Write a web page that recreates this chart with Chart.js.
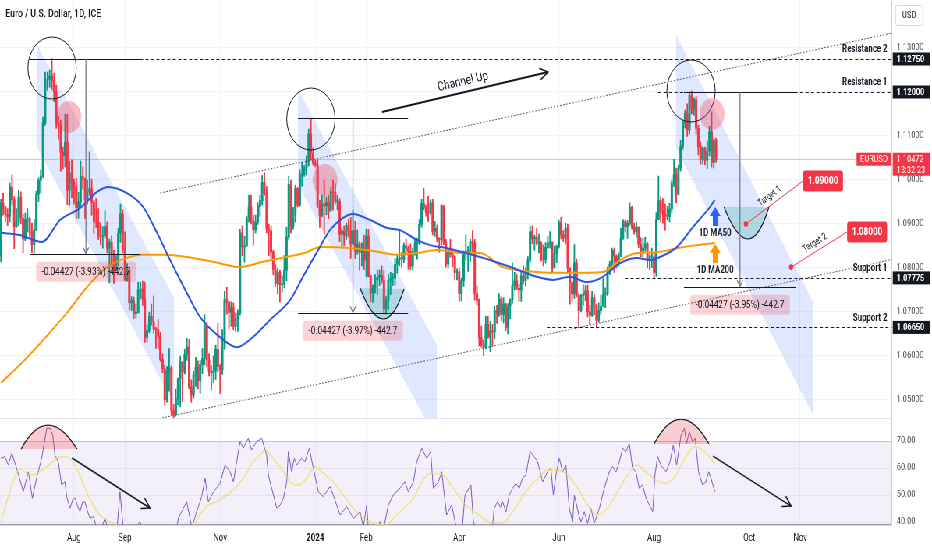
<!DOCTYPE html>
<html><head><meta charset="utf-8">
<script src="https://cdn.jsdelivr.net/npm/chart.js@4.4.1/dist/chart.umd.min.js"></script>
<style>
html,body{margin:0;padding:0;background:#ffffff;overflow:hidden;width:932px;height:550px;}
#stage{position:absolute;left:0;top:0;width:1195px;height:550px;transform-origin:0 0;}
#main{position:absolute;left:0;top:0;}
#rsi{position:absolute;left:0;top:418px;}
</style></head><body>
<div id="stage">
<canvas id="main" width="1195" height="418"></canvas>
<canvas id="rsi" width="1195" height="132"></canvas>
</div>
<script>
// ---------- DATA (daily EURUSD bars, index 0 = 15 Jun 2023) ----------
const titleText = 'Euro / U.S. Dollar, 1D, ICE';
const symbol = 'EURUSD';
const countdown = '13:32:23';
const lastPrice = 1.10472;
const firstOpen = 1.0830;
const closes = [
1.0947,1.0939,1.0922,1.0917,1.0984,1.0955,1.0894,1.0905,1.0961,1.0913,1.0866,1.0910,
1.0912,1.0881,1.0853,1.0887,1.0968,1.0999,1.1009,1.1130,1.1227,1.1229,1.1237,1.1226,1.1201,1.1129,1.1124,1.1063,1.1055,1.1086,1.0977,1.1016,1.0995,
1.0983,1.0937,1.0950,1.1008,1.1004,1.0956,1.0973,1.0980,1.0949,1.0906,1.0904,1.0873,1.0872,1.0874,1.0894,1.0845,1.0859,1.0806,1.0795,1.0817,1.0879,1.0923,1.0843,
1.0773,1.0795,1.0721,1.0726,1.0697,1.0698,1.0750,1.0752,1.0730,1.0642,1.0658,1.0690,1.0678,1.0661,1.0660,1.0645,1.0592,1.0571,1.0501,1.0565,1.0573,
1.0476,1.0467,1.0503,1.0548,1.0587,1.0563,1.0604,1.0620,1.0530,1.0511,1.0557,1.0575,1.0544,1.0581,1.0594,1.0668,1.0591,1.0565,1.0562,1.0566,1.0615,1.0576,
1.0569,1.0619,1.0728,1.0722,1.0699,1.0710,1.0667,1.0684,1.0698,1.0880,1.0848,1.0850,1.0913,1.0939,1.0908,1.0887,1.0905,1.0940,1.0953,1.0994,1.0969,1.0888,
1.0884,1.0836,1.0796,1.0765,1.0790,1.0762,1.0763,1.0795,1.0870,1.0990,1.0895,1.0922,1.0981,1.0943,1.1012,1.1012,1.1028,1.1042,1.1105,1.1061,1.1039,
1.1035,1.0942,1.0920,1.0945,1.0941,1.0950,1.0930,1.0973,1.0972,1.0951,1.0951,1.0877,1.0884,1.0873,1.0897,1.0884,1.0855,1.0885,1.0838,1.0855,1.0835,1.0845,1.0818,
1.0873,1.0782,1.0743,1.0755,1.0773,1.0779,1.0784,1.0772,1.0707,1.0727,1.0772,1.0777,1.0777,1.0808,1.0820,1.0823,1.0820,1.0851,1.0845,1.0838,1.0804,
1.0838,1.0855,1.0856,1.0899,1.0947,1.0937,1.0927,1.0926,1.0948,1.0883,1.0890,1.0867,1.0865,1.0942,1.0858,1.0809,1.0839,1.0831,1.0826,1.0790,1.0791,
1.0742,1.0771,1.0835,1.0836,1.0838,1.0860,1.0857,1.0742,1.0727,1.0642,1.0625,1.0620,1.0672,1.0643,1.0656,1.0655,1.0703,1.0697,1.0730,1.0694,1.0718,1.0665,
1.0713,1.0728,1.0760,1.0771,1.0754,1.0750,1.0782,1.0771,1.0790,1.0818,1.0883,1.0866,1.0870,1.0856,1.0856,1.0820,1.0819,1.0847,1.0857,1.0858,1.0800,1.0833,1.0849,
1.0903,1.0875,1.0868,1.0891,1.0800,1.0767,1.0741,1.0812,1.0738,1.0703,1.0737,1.0741,1.0748,1.0700,1.0693,1.0733,1.0714,1.0681,1.0703,1.0713,
1.0740,1.0741,1.0791,1.0809,1.0840,1.0827,1.0814,1.0830,1.0868,1.0906,1.0894,1.0902,1.0938,1.0894,1.0882,1.0893,1.0854,1.0838,1.0845,1.0855,1.0818,1.0825,1.0825,
1.0790,1.0910,1.0953,1.0928,1.0923,1.0920,1.0917,1.0934,1.0993,1.1012,1.0968,1.1027,1.1077,1.1130,1.1151,1.1113,1.1192,1.1161,1.1183,1.1118,1.1076,1.1047,
1.1073,1.1045,1.1066,1.1110,1.1040,1.1090,1.1047];
const highs = [
1.0956,1.0970,1.0940,1.0935,1.0993,1.1012,1.0962,1.0935,1.0976,1.0973,1.0922,1.0925,
1.0935,1.0916,1.0902,1.0910,1.0975,1.1005,1.1023,1.1143,1.1245,1.1245,1.1250,1.1276,1.1243,1.1216,1.1145,1.1136,1.1075,1.1150,1.1149,1.1043,1.1046,
1.1002,1.1005,1.0972,1.1043,1.1030,1.1000,1.1000,1.1064,1.1002,1.0954,1.0958,1.0935,1.0903,1.0894,1.0930,1.0905,1.0866,1.0873,1.0840,1.0828,1.0890,1.0945,1.0932,
1.0882,1.0810,1.0799,1.0735,1.0734,1.0718,1.0768,1.0768,1.0770,1.0768,1.0670,1.0700,1.0718,1.0737,1.0665,1.0683,1.0654,1.0605,1.0580,1.0576,1.0617,
1.0577,1.0490,1.0525,1.0550,1.0600,1.0575,1.0616,1.0640,1.0638,1.0546,1.0565,1.0597,1.0589,1.0590,1.0617,1.0694,1.0676,1.0605,1.0579,1.0600,1.0624,1.0675,
1.0581,1.0660,1.0747,1.0756,1.0725,1.0723,1.0721,1.0698,1.0705,1.0888,1.0895,1.0872,1.0918,1.0966,1.0965,1.0920,1.0920,1.0948,1.0965,1.1010,1.1017,1.0985,
1.0900,1.0895,1.0840,1.0808,1.0800,1.0795,1.0782,1.0828,1.0893,1.1009,1.1000,1.0938,1.0988,1.0983,1.1023,1.1040,1.1033,1.1055,1.1116,1.1140,1.1073,
1.1045,1.1046,1.0954,1.0966,1.0999,1.0962,1.0965,1.0983,1.0999,1.0992,1.0965,1.0957,1.0891,1.0895,1.0902,1.0910,1.0915,1.0932,1.0906,1.0886,1.0860,1.0857,1.0874,
1.0888,1.0888,1.0784,1.0762,1.0785,1.0795,1.0795,1.0805,1.0795,1.0735,1.0786,1.0790,1.0788,1.0822,1.0831,1.0888,1.0835,1.0857,1.0866,1.0850,1.0855,
1.0845,1.0865,1.0868,1.0910,1.0956,1.0981,1.0943,1.0963,1.0955,1.0956,1.0906,1.0898,1.0869,1.0944,1.0942,1.0865,1.0845,1.0865,1.0842,1.0828,1.0798,
1.0800,1.0777,1.0839,1.0876,1.0849,1.0865,1.0885,1.0865,1.0760,1.0730,1.0668,1.0636,1.0690,1.0690,1.0678,1.0672,1.0713,1.0715,1.0742,1.0735,1.0733,1.0720,
1.0719,1.0730,1.0812,1.0790,1.0785,1.0763,1.0790,1.0805,1.0800,1.0826,1.0894,1.0896,1.0875,1.0890,1.0877,1.0860,1.0852,1.0858,1.0872,1.0883,1.0860,1.0850,1.0852,
1.0909,1.0916,1.0885,1.0902,1.0900,1.0790,1.0767,1.0853,1.0820,1.0742,1.0740,1.0762,1.0760,1.0761,1.0715,1.0747,1.0740,1.0717,1.0721,1.0738,
1.0776,1.0755,1.0802,1.0816,1.0845,1.0845,1.0830,1.0835,1.0891,1.0910,1.0910,1.0908,1.0948,1.0941,1.0902,1.0905,1.0892,1.0869,1.0868,1.0870,1.0858,1.0830,1.0845,
1.0835,1.0926,1.1009,1.0961,1.0958,1.0945,1.0940,1.0947,1.1000,1.1047,1.1027,1.1034,1.1090,1.1135,1.1159,1.1173,1.1200,1.1202,1.1187,1.1190,1.1124,1.1087,
1.1076,1.1075,1.1089,1.1122,1.1155,1.1095,1.1095];
const lows = [
1.0814,1.0920,1.0905,1.0896,1.0905,1.0943,1.0844,1.0892,1.0896,1.0900,1.0835,1.0862,
1.0882,1.0872,1.0835,1.0833,1.0885,1.0951,1.0970,1.1005,1.1124,1.1204,1.1211,1.1206,1.1178,1.1117,1.1093,1.1020,1.1025,1.1030,1.0944,1.0943,1.0960,
1.0945,1.0912,1.0913,1.0940,1.0980,1.0912,1.0945,1.0965,1.0920,1.0878,1.0892,1.0865,1.0853,1.0845,1.0868,1.0835,1.0766,1.0800,1.0765,1.0795,1.0805,1.0858,1.0835,
1.0772,1.0770,1.0705,1.0703,1.0685,1.0686,1.0706,1.0730,1.0715,1.0631,1.0632,1.0653,1.0670,1.0652,1.0617,1.0616,1.0588,1.0562,1.0488,1.0495,1.0520,
1.0465,1.0448,1.0463,1.0489,1.0484,1.0496,1.0559,1.0590,1.0525,1.0495,1.0504,1.0531,1.0525,1.0515,1.0560,1.0580,1.0575,1.0555,1.0523,1.0540,1.0547,1.0564,
1.0515,1.0558,1.0615,1.0695,1.0661,1.0667,1.0660,1.0656,1.0656,1.0693,1.0828,1.0813,1.0850,1.0904,1.0900,1.0852,1.0880,1.0899,1.0917,1.0943,1.0965,1.0880,
1.0828,1.0820,1.0785,1.0758,1.0741,1.0723,1.0745,1.0755,1.0771,1.0865,1.0880,1.0888,1.0904,1.0939,1.0940,1.0986,1.1008,1.1011,1.1032,1.1046,1.1034,
1.1030,1.0937,1.0892,1.0916,1.0877,1.0921,1.0912,1.0931,1.0932,1.0945,1.0932,1.0860,1.0844,1.0850,1.0865,1.0870,1.0822,1.0851,1.0821,1.0831,1.0795,1.0805,1.0796,
1.0780,1.0779,1.0723,1.0722,1.0743,1.0740,1.0760,1.0765,1.0696,1.0695,1.0705,1.0740,1.0760,1.0761,1.0788,1.0805,1.0802,1.0812,1.0834,1.0797,1.0797,
1.0795,1.0829,1.0820,1.0853,1.0893,1.0932,1.0918,1.0906,1.0922,1.0875,1.0872,1.0859,1.0836,1.0852,1.0853,1.0802,1.0800,1.0824,1.0803,1.0774,1.0773,
1.0724,1.0725,1.0758,1.0818,1.0792,1.0815,1.0837,1.0727,1.0715,1.0623,1.0620,1.0601,1.0616,1.0640,1.0610,1.0623,1.0640,1.0674,1.0690,1.0680,1.0675,1.0657,
1.0650,1.0684,1.0720,1.0750,1.0751,1.0724,1.0724,1.0765,1.0759,1.0775,1.0812,1.0855,1.0840,1.0852,1.0834,1.0816,1.0805,1.0811,1.0844,1.0845,1.0788,1.0800,1.0812,
1.0845,1.0866,1.0860,1.0855,1.0790,1.0718,1.0725,1.0731,1.0734,1.0668,1.0700,1.0715,1.0725,1.0689,1.0671,1.0690,1.0694,1.0665,1.0677,1.0695,
1.0713,1.0710,1.0737,1.0785,1.0799,1.0790,1.0800,1.0805,1.0826,1.0865,1.0882,1.0867,1.0898,1.0888,1.0877,1.0870,1.0846,1.0826,1.0825,1.0838,1.0800,1.0796,1.0801,
1.0777,1.0781,1.0915,1.0905,1.0902,1.0886,1.0910,1.0905,1.0925,1.0985,1.0948,1.0966,1.1020,1.1070,1.1118,1.1099,1.1105,1.1150,1.1147,1.1105,1.1057,1.1036,
1.1036,1.1034,1.1026,1.1055,1.1030,1.1027,1.1040];

// moving averages (bar index, price)
const ma50Idx = [0,8.6,18.5,26.7,35.7,43.4,48.4,56.9,64.2,70.5,76.4,84,89.9,98.9,106.6,113.8,121.5,130.6,136.4,144.1,148.6,154.5,159,166.7,174.4,180.2,187.9,193.8,201.5,208.7,216.4,220.9,231.3,242.1,249.3,257,264.7,271.9,279.6,287.3,293.2,297.7,305.4,312.6,320.3,322.5];
const ma50Val = [1.0880,1.0875,1.0859,1.0909,1.0936,1.0973,1.0984,1.0970,1.0939,1.0880,1.0818,1.0743,1.0689,1.0643,1.0620,1.0643,1.0682,1.0727,1.0780,1.0848,1.0886,1.0914,1.0923,1.0909,1.0891,1.0886,1.0864,1.0852,1.0845,1.0836,1.0825,1.0818,1.0800,1.0780,1.0773,1.0780,1.0768,1.0780,1.0811,1.0823,1.0818,1.0825,1.0848,1.0893,1.0939,1.0955];
const ma200Idx = [0,8.6,19,29.8,38.9,47.9,56.9,64.2,73.2,84,95.8,108,118.4,129.2,138.2,144.1,159,171.2,178.9,187.9,196.9,208.7,216.4,226.8,242.1,257,271.9,279.6,287.3,296.3,305.4,314.4,322.5];
const ma200Val = [1.0539,1.0580,1.0636,1.0698,1.0757,1.0802,1.0823,1.0830,1.0830,1.0825,1.0814,1.0802,1.0814,1.0825,1.0836,1.0848,1.0845,1.0836,1.0830,1.0834,1.0841,1.0834,1.0834,1.0802,1.0791,1.0789,1.0791,1.0818,1.0834,1.0836,1.0845,1.0852,1.0857];

// RSI and its moving average (bar index, value)
const rsiIdx = [0,1.8,3.3,4.9,7.1,8.6,10.1,12.4,14.2,16.1,18.4,20.7,22.2,23.4,24.4,25.9,27.4,28.9,29.7,31.2,32.4,33.5,34.7,35.7,36.9,38,39.2,40.2,41.7,43.2,44.7,47,48.5,50.8,52.5,53.8,55.3,57.6,59.8,62.8,64.3,66.6,70.3,73.4,76.4,78.6,80.1,81.6,83.9,86.2,88.4,90.7,92.2,93.7,96,99,101.2,103.5,105,106.5,108,109.5,111.7,113.2,115.5,117.8,120,120.8,122.3,124.6,126.1,127.6,129.1,129.8,131.3,132.5,133.6,135.8,137.3,139.3,141.1,143.4,145.6,148.6,150.1,153.2,156.2,159.2,162.2,163.7,165.2,166,168.2,171.2,172.7,175,177.2,180.3,182.5,184,186.3,187.8,190.1,192.3,194.1,195.3,197.6,199.1,201.3,203.6,205.9,208.1,209.6,212.3,213.4,214.6,217,219,222.1,222.8,224.3,225.9,226.6,228.1,229.6,231.1,232.6,234.1,235.6,237.1,239,240.9,242.4,244.7,246.9,248.4,249.5,250.7,252.2,253.7,255.2,256.7,258.2,259,261,262,263.5,265,266.5,268,270.3,272.5,274.8,276.3,277.8,279.3,280.8,282.3,283.8,285.3,286.8,288.3,289.8,291.4,292.9,294.4,295.4,296.6,298.1,300.4,302.2,303.7,305.2,307.2,308.7,309.7,310.9,312.4,313.6,315.1,316.9,318.4,319.7,320.7,322.5];
const rsiVal = [63.6,64.2,61.1,65.4,59.9,55.6,51.2,58.6,48.8,56.2,63.6,74.7,74.7,72.2,64.8,62.3,53.7,54.9,49.4,45.1,48.2,48.8,45.7,43.8,47.5,47.3,43.8,41.4,42,38,36,41.4,37,34,38,51.2,37,35,37,40.1,37,33,30,27,26,33,41.4,43.8,47.5,38,43.8,49.4,56.2,47.5,51.2,54.3,61.1,58.6,54.9,62.3,69.8,67.3,71,66.7,69.8,71,64.8,57.4,52.5,45.1,46.3,48.8,54.9,66.1,58.6,63.6,61.1,63.6,62.3,67.3,59.9,51.2,49.4,53.1,50,42.6,45.7,41.4,43.8,38,46.3,37,34,40.1,37,46.3,50,52.5,54.9,51.2,54.9,62.3,67.3,63.6,66.1,52.5,54.9,58.6,42.6,46.3,37,35,50,53.7,40.1,37,33,36,38.9,45.1,47.5,45.1,47.5,43.8,50,52.5,54.3,52.5,56.2,57.4,66.1,64.2,62.3,54.9,58.6,59.9,50,57.4,63.6,58.6,61.1,45.1,40.1,50,42.6,40.1,43.8,39.5,45.1,39.5,45.1,52.5,58.6,60.5,58.6,62.3,67.3,66.1,69.1,59.9,58.6,52.5,53.7,48.8,46.3,43.8,57.4,64.2,61.1,58.6,62.3,68.5,61.1,72.2,74.7,69.1,73.5,69.8,71,58.6,53.7,54.9,58.6,56.2,51.2];
const rsiMaIdx = [0,2.6,5.6,8.6,11.6,14.6,17.6,20.7,24.4,28.2,31.2,34.2,38,41.7,44.7,49.3,52.3,56.8,62.8,70,78,86.9,89.9,93.7,97.4,102,105.7,109.5,114,117,119.3,123,127.6,131.3,134.3,138.1,141.9,145.6,150.1,154.7,159.2,163.7,168.2,174.2,177.2,181.8,186.3,190.1,193.8,196.8,199.8,204.3,210,216,222.1,226.6,231.1,237.1,242.4,246.9,251.5,256,260.5,265,269.5,274,278.5,283.1,286.8,291.4,295.9,300.4,304.9,309.4,313.2,316.9,322.5];
const rsiMaVal = [40.1,47.5,55,59.9,58,57.4,58.6,60.5,63,64.2,63.6,59.9,52.5,46.3,42.6,40.1,38.9,37,35,33,33,38.5,42.6,46.3,47.5,50,52.5,56.2,62.3,64.8,66.7,63.6,58.6,54.3,53.7,56.2,60.5,58,54.9,50,45.1,41.4,39.5,38.9,41.4,45.1,48.8,54.9,58,58,57.4,52.5,46.3,42.6,39.5,39.5,43.8,51.2,56.2,59.2,59.2,57.4,52.5,46.3,42.6,45.1,51.2,57.4,61.1,58.6,55.6,54.3,57.4,64.2,67.9,66.7,61.7];

// axes
const monthTickIdx = [33,56,99,142,165,207,252,295,338,361];
const monthTickLabels = ['Aug','Sep','Nov','2024','Feb','Apr','Jun','Aug','Oct','Nov'];
const priceTicks = [1.05,1.06,1.07,1.08,1.09,1.10,1.11,1.12,1.13];
const rsiTicks = [40,50,60,70];
const viewIdx = [-0.42, 402.47];
const viewPrice = [1.045909, 1.140909];
const viewRsi = [38.89, 78.52];
const rsiBandTop = 70;

// drawings (in data coordinates: bar index, price)
const levelPrices = [1.1275, 1.12, 1.07775, 1.0665];
const levelNames = ['Resistance 2','Resistance 1','Support 1','Support 2'];
const levelStartIdx = [62.8, 296.8, 281.9, 246.6];
const channelUpper = [[71.9,1.09705],[402.5,1.13341]];
const channelLower = [[72.8,1.04591],[402.5,1.08193]];
const channelArrow = [[172.1,1.11545],[247.1,1.12455]];
const channelText = [208.7,1.12227,'Channel Up'];
const bearBands = [
  [[16.3,1.13068],[78.2,1.07318],[78.2,1.04886],[16.3,1.1075]],
  [[134.2,1.12045],[196.9,1.0625],[196.9,1.0409],[134.2,1.09886]],
  [[304.9,1.13295],[366.8,1.07227],[366.8,1.04659],[304.9,1.10727]]
];
const topCircles = [[23.1,1.12545],[140.0,1.11386],[311.7,1.12023]];
const pinkDots = [[30.7,1.11432],[146.4,1.1000],[321.2,1.1150]];
const measureTop = [1.1275, 1.1141, 1.12];
const measureDelta = 0.04427;
const measureFrom = [13.1, 134.2, 308.5];
const measureTo = [62.8, 183.9, 359.1];
const measureMid = [38.4, 159, 333.8];
const measurePct = ['-3.93%','-3.97%','-3.95%'];
const measurePips = '-442.7';
const uArcs = [
  [[162.2,1.07545],[172.6,1.06841],[182.1,1.07523]],
  [[326.6,1.09386],[337.4,1.08659],[346.9,1.09386]]
];
const targetPrices = [1.09, 1.08];
const targetNames = ['Target 1','Target 2'];
const targetDots = [[336.5,1.0900],[356.9,1.0802]];
const targetBoxes = [[362.3,1.09977],[382.2,1.08818]];
const maNotes = [
  {text:'1D MA50', idx:322.6, textPrice:1.08795, tip:1.09386, base:1.08955, color:'#2962FF'},
  {text:'1D MA200', idx:322.6, textPrice:1.07932, tip:1.08545, base:1.08114, color:'#FF9800'}
];
const rsiDomes = [
  [[9.1,67.0],[21.3,75.9],[34.4,67.0]],
  [[295,68.9],[307.2,78.1],[319.8,68.9]]
];
const rsiArrows = [
  [[32.1,63.7],[67.3,45.2]],
  [[321.6,64.4],[356.9,45.9]]
];

// ---------- RENDERING ----------
const STAGE_W = 1195;
const SX = 932 / STAGE_W;
document.getElementById('stage').style.transform = 'scaleX(' + SX + ')';
const AXIS_W = 40 / SX;
const UP = '#089981', DOWN = '#F23645';
Chart.defaults.font.family = 'Roboto, "Noto Sans", sans-serif';
Chart.defaults.color = '#131722';

const opens = closes.map((c,i)=> i===0 ? firstOpen : closes[i-1]);
const barColors = closes.map((c,i)=> c >= opens[i] ? UP : DOWN);
const wickData = closes.map((c,i)=>({x:i, y:[Math.min(lows[i],opens[i],c), Math.max(highs[i],opens[i],c)]}));
const bodyData = closes.map((c,i)=>({x:i, y:[opens[i], c]}));
const pairs = (xs, ys) => xs.map((x,i)=>({x, y:ys[i]})).filter(p=>p.y!==undefined);

function seg(ctx,x1,y1,x2,y2){ctx.beginPath();ctx.moveTo(x1,y1);ctx.lineTo(x2,y2);ctx.stroke();}
function vHead(ctx,x1,y1,x2,y2,size,spread){
  const a=Math.atan2(y2-y1,x2-x1);
  ctx.beginPath();
  ctx.moveTo(x2-size*Math.cos(a-spread),y2-size*Math.sin(a-spread));
  ctx.lineTo(x2,y2);
  ctx.lineTo(x2-size*Math.cos(a+spread),y2-size*Math.sin(a+spread));
  ctx.stroke();
}
function rrect(ctx,x,y,w,h,r){ctx.beginPath(); if(ctx.roundRect){ctx.roundRect(x,y,w,h,r);} else {ctx.rect(x,y,w,h);} }
function arcPath(ctx, pts){
  const [s,b,e]=pts;
  const c=[2*b[0]-(s[0]+e[0])/2, 2*b[1]-(s[1]+e[1])/2];
  ctx.beginPath(); ctx.moveTo(s[0],s[1]); ctx.quadraticCurveTo(c[0],c[1],e[0],e[1]);
}

const xScaleBase = {
  type:'linear', min:viewIdx[0], max:viewIdx[1], offset:false,
  grid:{color:'#f0f3fa', drawTicks:false, offset:false},
  afterBuildTicks(s){ s.ticks = monthTickIdx.map(v=>({value:v})); }
};

const mainOverlay = {
  id:'mainOverlay',
  beforeDatasetsDraw(chart){
    const {ctx, chartArea:a, scales:{x,y}} = chart;
    const X=v=>x.getPixelForValue(v), Y=v=>y.getPixelForValue(v);
    ctx.save();
    ctx.beginPath(); ctx.rect(a.left,a.top,a.right-a.left,a.bottom-a.top); ctx.clip();
    ctx.fillStyle='rgba(41,98,255,0.15)';
    bearBands.forEach(b=>{
      ctx.beginPath();
      b.forEach((p,k)=>{ if(k) ctx.lineTo(X(p[0]),Y(p[1])); else ctx.moveTo(X(p[0]),Y(p[1])); });
      ctx.closePath(); ctx.fill();
    });
    ctx.strokeStyle='rgba(242,54,69,0.35)'; ctx.lineWidth=1;
    const ly=Math.round(Y(lastPrice))+0.5;
    seg(ctx,a.left,ly,a.right,ly);
    ctx.restore();
  },
  afterDatasetsDraw(chart){
    const {ctx, chartArea:a, scales:{x,y}} = chart;
    const X=v=>x.getPixelForValue(v), Y=v=>y.getPixelForValue(v);
    const cy=v=>Math.round(Y(v))+0.5;
    ctx.save();
    ctx.beginPath(); ctx.rect(a.left,a.top,a.right-a.left,a.bottom-a.top); ctx.clip();
    ctx.lineWidth=1; ctx.strokeStyle='#50535e'; ctx.setLineDash([2,2]);
    [channelUpper,channelLower].forEach(l=>seg(ctx,X(l[0][0]),Y(l[0][1]),X(l[1][0]),Y(l[1][1])));
    ctx.strokeStyle='#131722'; ctx.setLineDash([4,3]);
    levelPrices.forEach((p,i)=>seg(ctx,X(levelStartIdx[i]),cy(p),a.right,cy(p)));
    ctx.setLineDash([]);
    ctx.strokeStyle='#131722'; ctx.lineWidth=1;
    topCircles.forEach(c=>{ctx.beginPath();ctx.arc(X(c[0]),Y(c[1]),31,0,Math.PI*2);ctx.stroke();});
    ctx.fillStyle='rgba(242,54,69,0.32)';
    pinkDots.forEach(c=>{ctx.beginPath();ctx.arc(X(c[0]),Y(c[1]),16,0,Math.PI*2);ctx.fill();});
    uArcs.forEach(u=>{
      arcPath(ctx,u.map(p=>[X(p[0]),Y(p[1])]));
      ctx.fillStyle='rgba(8,153,129,0.22)'; ctx.fill();
      ctx.strokeStyle='#131722'; ctx.lineWidth=1.2; ctx.stroke();
    });
    measureTop.forEach((t,i)=>{
      const b=t-measureDelta;
      ctx.strokeStyle='#131722'; ctx.lineWidth=1;
      seg(ctx,X(measureFrom[i]),cy(t),X(measureTo[i]),cy(t));
      seg(ctx,X(measureFrom[i]),cy(b),X(measureTo[i]),cy(b));
      ctx.strokeStyle='#787b86'; ctx.lineWidth=1.3;
      const mx=X(measureMid[i]);
      seg(ctx,mx,Y(t),mx,Y(b));
      vHead(ctx,mx,Y(t),mx,Y(b)-0.5,7,0.55);
      const txt='-0.04427 ('+measurePct[i]+') '+measurePips;
      ctx.font='10.5px Roboto';
      const w=ctx.measureText(txt).width+14;
      const top=Y(b)+8;
      ctx.fillStyle='rgba(242,54,69,0.22)'; rrect(ctx,mx-w/2,top,w,20,3); ctx.fill();
      ctx.fillStyle='#131722'; ctx.textAlign='center'; ctx.textBaseline='middle';
      ctx.fillText(txt,mx,top+10.5);
    });
    {
      const x1=X(channelArrow[0][0]), y1=Y(channelArrow[0][1]), x2=X(channelArrow[1][0]), y2=Y(channelArrow[1][1]);
      ctx.strokeStyle='#131722'; ctx.lineWidth=2; seg(ctx,x1,y1,x2,y2);
      ctx.lineWidth=1.5; vHead(ctx,x1,y1,x2,y2,12,0.5);
      const ang=Math.atan2(y2-y1,(x2-x1)*SX);
      ctx.save(); ctx.translate(X(channelText[0]),Y(channelText[1]));
      ctx.scale(1/SX,1); ctx.rotate(ang); ctx.scale(SX,1);
      ctx.font='13px Roboto'; ctx.fillStyle='#131722'; ctx.textAlign='center'; ctx.textBaseline='middle';
      ctx.fillText(channelText[2],0,0); ctx.restore();
    }
    targetDots.forEach((d,i)=>{
      const x1=X(d[0]), y1=Y(d[1]), x2=X(targetBoxes[i][0]), y2=Y(targetBoxes[i][1]);
      ctx.strokeStyle='#F23645'; ctx.lineWidth=1; seg(ctx,x1,y1,x2,y2);
      ctx.fillStyle='#F23645'; ctx.beginPath(); ctx.arc(x1,y1,2.8,0,Math.PI*2); ctx.fill();
      const ang=Math.atan2(y2-y1,(x2-x1)*SX);
      ctx.save(); ctx.translate((x1+x2)/2,(y1+y2)/2);
      ctx.scale(1/SX,1); ctx.rotate(ang); ctx.scale(SX,1);
      ctx.font='9.5px Roboto'; ctx.fillStyle='#131722'; ctx.textAlign='center'; ctx.textBaseline='bottom';
      ctx.fillText(targetNames[i],0,-3); ctx.restore();
    });
    maNotes.forEach(n=>{
      const xx=X(n.idx), yt=Y(n.tip), yb=Y(n.base);
      ctx.fillStyle=n.color; ctx.beginPath();
      ctx.moveTo(xx,yt); ctx.lineTo(xx+7,yt+9); ctx.lineTo(xx+3,yt+9); ctx.lineTo(xx+3,yb);
      ctx.lineTo(xx-3,yb); ctx.lineTo(xx-3,yt+9); ctx.lineTo(xx-7,yt+9); ctx.closePath(); ctx.fill();
      ctx.font='bold 10px Roboto'; ctx.fillStyle='#1c2233'; ctx.textAlign='center'; ctx.textBaseline='middle';
      ctx.fillText(n.text,xx,Y(n.textPrice));
    });
    ctx.font='bold 10px Roboto'; ctx.fillStyle='#131722'; ctx.textAlign='right'; ctx.textBaseline='middle';
    levelPrices.forEach((p,i)=>ctx.fillText(levelNames[i],a.right-6,Y(p)-9));
    ctx.restore();
  },
  afterDraw(chart){
    const {ctx, chartArea:a, scales:{x,y}} = chart;
    const X=v=>x.getPixelForValue(v), Y=v=>y.getPixelForValue(v);
    const W=chart.width;
    ctx.save();
    targetBoxes.forEach((b,i)=>{
      const x2=X(b[0]), y2=Y(b[1]);
      const txt=targetPrices[i].toFixed(5);
      ctx.font='bold 10.5px Roboto';
      const w=ctx.measureText(txt).width+12;
      ctx.fillStyle='#F23645'; rrect(ctx,x2,y2-10.5,w,21,3); ctx.fill();
      ctx.fillStyle='#ffffff'; ctx.textAlign='center'; ctx.textBaseline='middle';
      ctx.fillText(txt,x2+w/2,y2+0.5);
    });
    ctx.font='500 11px Roboto'; ctx.fillStyle='#131722'; ctx.textAlign='left'; ctx.textBaseline='middle';
    ctx.fillText(titleText,7,14.5);
    ctx.fillStyle='#ffffff'; ctx.strokeStyle='#d1d4dc'; ctx.lineWidth=1;
    rrect(ctx,a.right+4.5,5.5,35,20,3); ctx.fill(); ctx.stroke();
    ctx.fillStyle='#131722'; ctx.font='9.5px Roboto'; ctx.textAlign='center';
    ctx.fillText('USD',a.right+22,15.5);
    ctx.textAlign='left';
    levelPrices.forEach(p=>{
      const yy=Y(p);
      ctx.fillStyle='#131722'; ctx.fillRect(a.right+1,yy-6.5,W-a.right-4,13);
      ctx.fillStyle='#ffffff'; ctx.font='bold 9.5px Roboto';
      ctx.fillText(p.toFixed(5),a.right+6,yy+0.5);
    });
    const ly=Y(lastPrice);
    ctx.fillStyle='#F23645'; ctx.fillRect(a.right+1,ly-6.5,W-a.right-3,23);
    ctx.fillStyle='#ffffff'; ctx.font='9.5px Roboto';
    ctx.fillText(lastPrice.toFixed(5),a.right+6,ly+0.5);
    ctx.fillText(countdown,a.right+6,ly+11);
    const tw=ctx.measureText(symbol).width+9;
    ctx.fillStyle='#F23645'; ctx.fillRect(a.right-tw-1,ly-6.5,tw,13);
    ctx.fillStyle='#ffffff'; ctx.textAlign='center';
    ctx.fillText(symbol,a.right-1-tw/2,ly+0.5);
    ctx.restore();
  }
};

new Chart(document.getElementById('main'), {
  type:'bar',
  data:{datasets:[
    {type:'line', label:'MA 50', data:pairs(ma50Idx,ma50Val), borderColor:'#2a55e5', borderWidth:2, pointRadius:0, cubicInterpolationMode:'monotone', order:0},
    {type:'line', label:'MA 200', data:pairs(ma200Idx,ma200Val), borderColor:'#FF9800', borderWidth:2, pointRadius:0, cubicInterpolationMode:'monotone', order:0},
    {label:'bodies', data:bodyData, backgroundColor:barColors, barThickness:2.3, minBarLength:1, grouped:false, order:1},
    {label:'wicks', data:wickData, backgroundColor:barColors, barThickness:1.2, grouped:false, order:2}
  ]},
  options:{
    responsive:false, animation:false, events:[],
    layout:{padding:0},
    plugins:{legend:{display:false}, tooltip:{enabled:false}},
    scales:{
      x:Object.assign({}, xScaleBase, {
        border:{display:false}, ticks:{display:false},
        afterFit(s){ s.height=0; s.paddingLeft=0; s.paddingRight=0; }
      }),
      y:{
        position:'right', min:viewPrice[0], max:viewPrice[1],
        grid:{color:'#f0f3fa', drawTicks:false},
        border:{color:'#d1d4dc'},
        ticks:{color:'#4a4e59', font:{size:9.5}, padding:6, callback:v=>Number(v).toFixed(5)},
        afterBuildTicks(s){ s.ticks = priceTicks.map(v=>({value:v})); },
        afterFit(s){ s.width=AXIS_W; s.paddingTop=0; s.paddingBottom=0; }
      }
    }
  },
  plugins:[mainOverlay]
});

const rsiOverlay = {
  id:'rsiOverlay',
  beforeDatasetsDraw(chart){
    const {ctx, chartArea:a, scales:{y}} = chart;
    ctx.save();
    const y70=Math.round(y.getPixelForValue(rsiBandTop))+0.5;
    ctx.fillStyle='rgba(126,87,194,0.09)';
    ctx.fillRect(a.left,y70,a.right-a.left,a.bottom-y70);
    ctx.strokeStyle='rgba(120,123,134,0.35)'; ctx.lineWidth=1;
    seg(ctx,a.left,y70,a.right,y70);
    ctx.restore();
  },
  afterDatasetsDraw(chart){
    const {ctx, chartArea:a, scales:{x,y}} = chart;
    const X=v=>x.getPixelForValue(v), Y=v=>y.getPixelForValue(v);
    ctx.save();
    ctx.beginPath(); ctx.rect(a.left,a.top,a.right-a.left,a.bottom-a.top); ctx.clip();
    rsiDomes.forEach(d=>{
      arcPath(ctx,d.map(p=>[X(p[0]),Y(p[1])]));
      ctx.fillStyle='rgba(242,54,69,0.25)'; ctx.fill();
      ctx.strokeStyle='#131722'; ctx.lineWidth=1.2; ctx.stroke();
    });
    rsiArrows.forEach(r=>{
      const x1=X(r[0][0]), y1=Y(r[0][1]), x2=X(r[1][0]), y2=Y(r[1][1]);
      ctx.strokeStyle='#131722'; ctx.lineWidth=1.5; seg(ctx,x1,y1,x2,y2);
      vHead(ctx,x1,y1,x2,y2,12,0.5);
    });
    ctx.restore();
    ctx.save();
    ctx.strokeStyle='#e0e3eb'; ctx.lineWidth=1; seg(ctx,0,0.5,a.right,0.5);
    ctx.restore();
  }
};

new Chart(document.getElementById('rsi'), {
  type:'line',
  data:{datasets:[
    {label:'RSI MA', data:pairs(rsiMaIdx,rsiMaVal), borderColor:'rgba(238,220,80,0.7)', borderWidth:1.5, pointRadius:0, cubicInterpolationMode:'monotone'},
    {label:'RSI', data:pairs(rsiIdx,rsiVal), borderColor:'#7E57C2', borderWidth:1, pointRadius:0, tension:0}
  ]},
  options:{
    responsive:false, animation:false, events:[],
    layout:{padding:0},
    plugins:{legend:{display:false}, tooltip:{enabled:false}},
    scales:{
      x:Object.assign({}, xScaleBase, {
        border:{display:true, color:'#a3a6af', width:1.5},
        ticks:{autoSkip:false, maxRotation:0, minRotation:0, padding:7, color:'#131722',
          font:(c)=>({size:10, weight:(c.tick && monthTickLabels[monthTickIdx.indexOf(c.tick.value)]==='2024')?'bold':'normal'}),
          callback:v=>{const k=monthTickIdx.indexOf(v); return k>=0?monthTickLabels[k]:'';}},
        afterFit(s){ s.height=25; s.paddingLeft=0; s.paddingRight=0; }
      }),
      y:{
        position:'right', min:viewRsi[0], max:viewRsi[1],
        grid:{color:'#eef0f5', drawTicks:false},
        border:{color:'#d1d4dc'},
        ticks:{color:'#4a4e59', font:{size:9.5}, padding:6, callback:v=>Number(v).toFixed(2)},
        afterBuildTicks(s){ s.ticks = rsiTicks.map(v=>({value:v})); },
        afterFit(s){ s.width=AXIS_W; s.paddingTop=0; s.paddingBottom=0; }
      }
    }
  },
  plugins:[rsiOverlay]
});
</script>
</body></html>
